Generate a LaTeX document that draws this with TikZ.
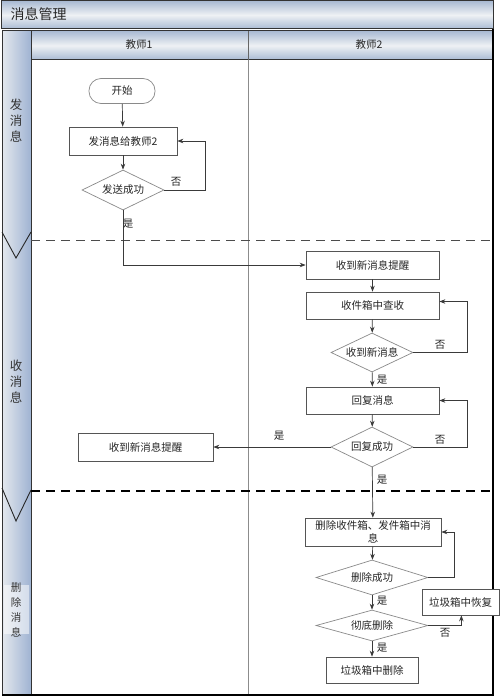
\documentclass[tikz,border=0pt]{standalone}
\usepackage{fontspec}
\setmainfont{Noto Sans CJK SC}
\usetikzlibrary{arrows.meta,shapes.geometric}
\definecolor{hdrA}{HTML}{A9BAD3}
\definecolor{hdrB}{HTML}{EEF1F4}
\definecolor{laneL}{HTML}{E4E8EE}
\definecolor{laneR}{HTML}{9FB3D2}
\definecolor{lineC}{HTML}{3A3A3A}
\definecolor{boxC}{HTML}{555555}
\definecolor{dmC}{HTML}{8A8A8A}
\begin{document}
\begin{tikzpicture}[x=1pt,y=-1pt,
  every node/.style={font=\fontsize{10.5pt}{13pt}\selectfont, text=black!85},
  proc/.style={draw=boxC, line width=0.7pt, fill=white, inner sep=0pt, align=center},
  dm/.style={draw=dmC, line width=0.7pt, fill=white, diamond, inner sep=0pt, aspect=2},
  term/.style={draw=dmC, line width=0.7pt, rounded corners=12pt, fill=white, inner sep=0pt, minimum width=66pt, minimum height=25pt},
  conn/.style={draw=lineC, line width=0.7pt},
  arr/.style={conn, -{Stealth[length=6pt,width=4.5pt]}},
  lab/.style={inner sep=1pt, font=\fontsize{10.5pt}{12pt}\selectfont},
  lanelab/.style={align=center, font=\fontsize{12.5pt}{16pt}\selectfont, text=black!80}
]
\useasboundingbox (0,0) rectangle (500,698);
\fill[white] (0,0) rectangle (500,698);
% title bar
\shade[top color=hdrA, bottom color=hdrA, middle color=hdrB] (1,1) rectangle (493,29);
\draw[line width=1pt, black!80] (1,1) rectangle (493,29);
\node[anchor=west, font=\fontsize{14pt}{16pt}\selectfont, text=black!85] (title) at (7,14) {消息管理};
% column headers
\shade[top color=hdrA, bottom color=hdrA, middle color=hdrB] (31,31) rectangle (493,60);
\draw[line width=1pt, black!80] (31,31) rectangle (493,60);
\draw[line width=0.7pt, black!60] (248,31) -- (248,60);
\node (h1) at (139,45) {教师1};
\node (h2) at (369,45) {教师2};
% left lane column
\shade[left color=laneL, right color=laneR] (2,31) rectangle (31,695);
\shade[left color=laneL!60!white, right color=laneR!45!white] (4,585) rectangle (29,633);
\draw[line width=1pt, black!80] (2,31) rectangle (31,695);
\draw[line width=0.9pt, black!85] (2,232) -- (16,258) -- (31,232);
\draw[line width=0.9pt, black!85] (2,488) -- (16,521) -- (31,490);
\node[lanelab] (l1) at (16,121) {发\\消\\息};
\node[lanelab] (l2) at (16,382) {收\\消\\息};
\node[lanelab, font=\fontsize{10.5pt}{15pt}\selectfont] (l3) at (16,610) {删\\除\\消\\息};
% main frame
\draw[line width=0.6pt, black!45] (248,60) -- (248,695);
\draw[line width=1.2pt, black] (493,29) -- (493,696);
\draw[line width=1.2pt, black] (2,695) -- (493,695);
% lane separators
\draw[dashed, dash pattern=on 9pt off 6pt, line width=0.9pt, black!70] (31,240) -- (493,240);
\draw[dashed, dash pattern=on 9pt off 6pt, line width=1.1pt, black] (31,491) -- (493,491);

% nodes
\node[term] (start) at (122,91) {开始};
\node[proc, minimum width=108pt, minimum height=28pt] (send) at (123,141) {发消息给教师2};
\node[dm, minimum width=82pt, minimum height=40pt] (sendok) at (123,190) {发送成功};
\node[proc, minimum width=133pt, minimum height=28pt] (recv) at (372.5,265) {收到新消息提醒};
\node[proc, minimum width=133pt, minimum height=27pt] (inbox) at (372.5,305.5) {收件箱中查收};
\node[dm, minimum width=82pt, minimum height=39pt] (gotnew) at (372,352.5) {收到新消息};
\node[proc, minimum width=133pt, minimum height=27pt] (reply) at (372.5,400.5) {回复消息};
\node[dm, minimum width=82pt, minimum height=40pt] (replyok) at (372,447) {回复成功};
\node[proc, minimum width=135pt, minimum height=28pt] (recv1) at (145.5,447) {收到新消息提醒};
\node[proc, minimum width=136pt, minimum height=28pt, font=\fontsize{10.5pt}{13pt}\selectfont] (del) at (373,532) {删除收件箱、发件箱中消\\息};
\node[dm, minimum width=112pt, minimum height=35pt] (delok) at (372,577.5) {删除成功};
\node[dm, minimum width=112pt, minimum height=31pt] (perm) at (372,625.5) {彻底删除};
\node[proc, minimum width=77pt, minimum height=26pt] (restore) at (460.5,602) {垃圾箱中恢复};
\node[proc, minimum width=92pt, minimum height=26pt] (trash) at (372,670) {垃圾箱中删除};

% connectors
\draw[arr] (start) -- (send);
\draw[arr] (send) -- (sendok);
\draw[arr] (sendok.east) -- ++(41,0) coordinate (c1) |- (send.east);
\node[lab] (n1) at (176,182) {否};
\draw[arr] (sendok.south) |- (recv.west);
\node[lab] (y1) at (128,224) {是};
\draw[arr] (recv) -- (inbox);
\draw[arr] (inbox) -- (gotnew);
\draw[arr] (gotnew.east) -- ++(54,0) coordinate (c2) |- ([yshift=4pt]inbox.east);
\node[lab] (n2) at (440,345) {否};
\draw[arr] (gotnew) -- (reply);
\node[lab] (y2) at (382,380) {是};
\draw[arr] (reply) -- (replyok);
\draw[arr] (replyok.east) -- ++(54,0) coordinate (c3) |- (reply.east);
\node[lab] (n3) at (440,440) {否};
\draw[arr] (replyok.west) -- (recv1.east);
\node[lab] (y3) at (279,436) {是};
\draw[arr] (replyok) -- (del);
\node[lab] (y4) at (382,480) {是};
\draw[arr] (delok.east) -- ++(26,0) coordinate (c4) |- (del.east);
\draw[arr] (del) -- (delok);
\draw[arr] (delok) -- (perm);
\node[lab] (y5) at (382,601) {是};
\draw[arr] (perm.east) -- ++(33,0) coordinate (c5) -- (c5 |- restore.south);
\node[lab] (n5) at (445,633) {否};
\draw[arr] (perm) -- (trash);
\node[lab] (y6) at (382,648) {是};
\end{tikzpicture}
\end{document}
